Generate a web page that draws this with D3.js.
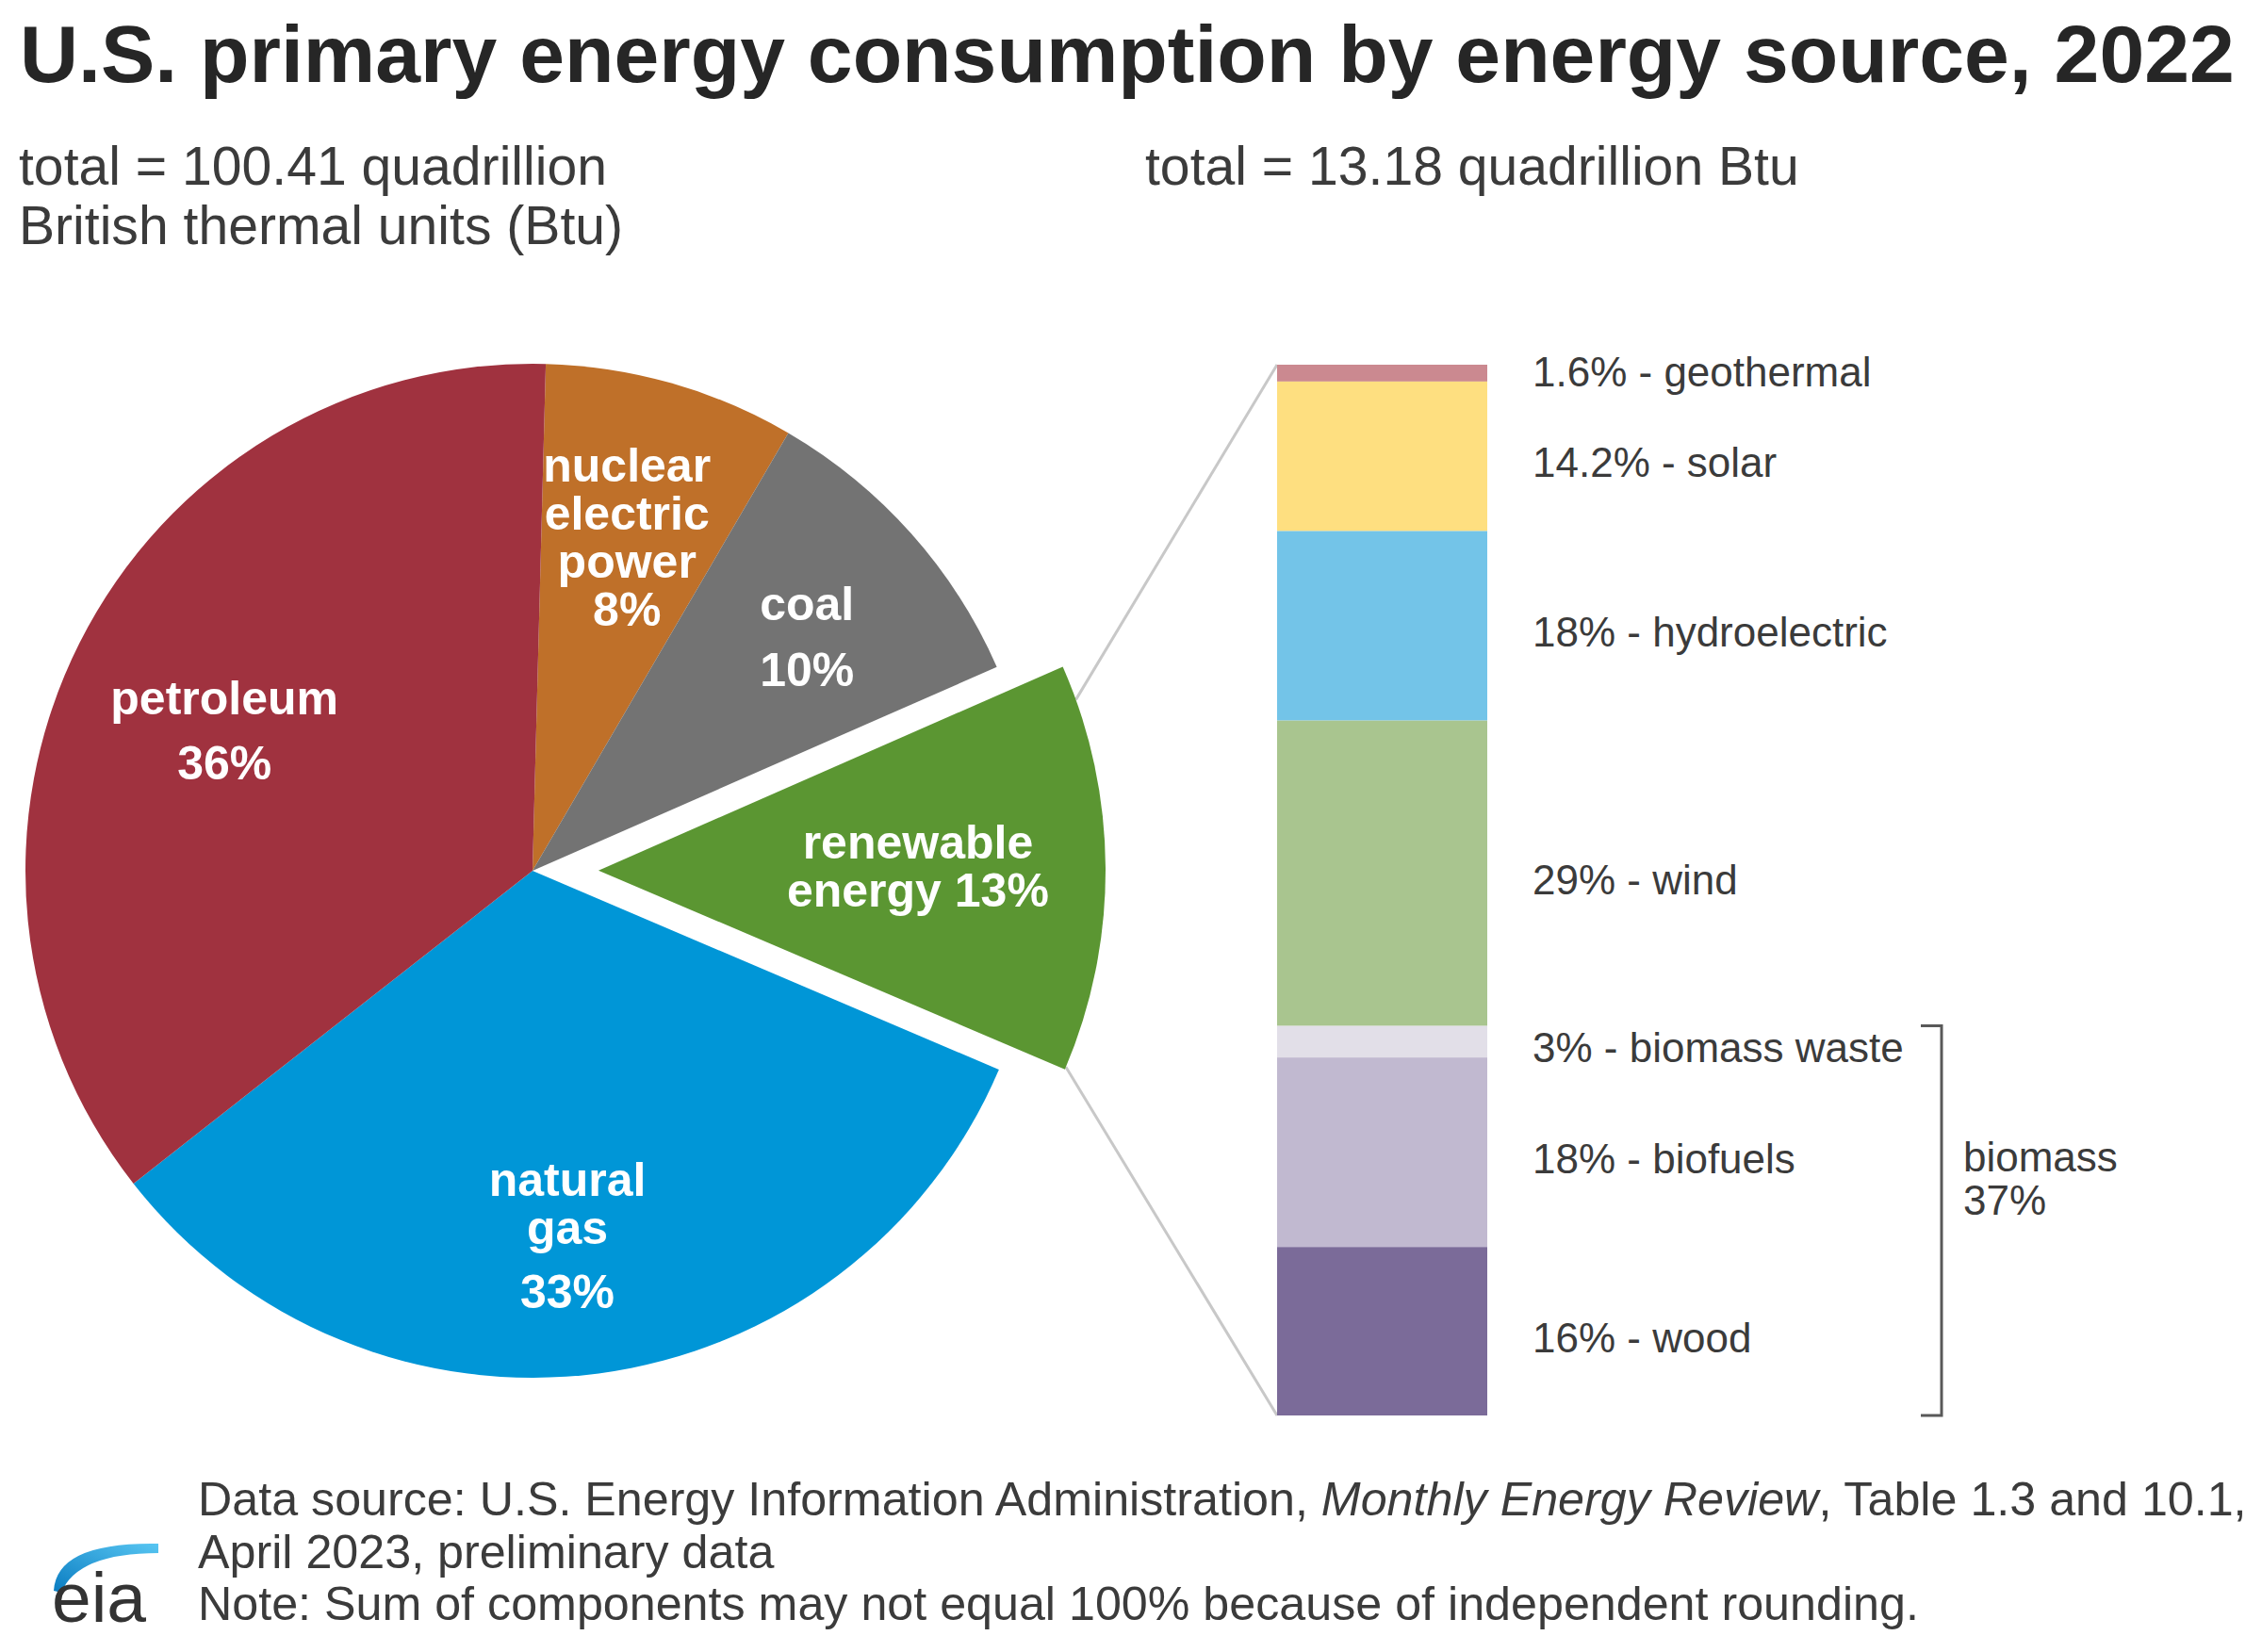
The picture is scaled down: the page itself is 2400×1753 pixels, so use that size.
<!DOCTYPE html>
<html><head><meta charset="utf-8">
<script src="https://cdn.jsdelivr.net/npm/d3@7"></script>
<style>
html,body{margin:0;padding:0;background:#fff;}
svg{display:block;font-family:"Liberation Sans",Arial,sans-serif;}
</style>
</head><body>
<svg id="chart" width="2400" height="1753"></svg>
<script>
// ---------- data ----------
const titleText = "U.S. primary energy consumption by energy source, 2022";
const leftTotalLines = ["total = 100.41 quadrillion", "British thermal units (Btu)"];
const rightTotalText = "total = 13.18 quadrillion Btu";

const pieCategories = ["nuclear electric power", "coal", "renewable energy", "natural gas", "petroleum"];
const pieValues = [8, 10, 13, 33, 36];
const pieLabelLines = [
  ["nuclear", "electric", "power", "8%"],
  ["coal", "10%"],
  ["renewable", "energy 13%"],
  ["natural", "gas", "33%"],
  ["petroleum", "36%"]
];

const renewCategories = ["geothermal", "solar", "hydroelectric", "wind", "biomass waste", "biofuels", "wood"];
const renewValues = [1.6, 14.2, 18, 29, 3, 18, 16];
const renewLabels = ["1.6% - geothermal", "14.2% - solar", "18% - hydroelectric", "29% - wind",
                     "3% - biomass waste", "18% - biofuels", "16% - wood"];
const biomassMembers = ["biomass waste", "biofuels", "wood"];
const biomassLabelLines = ["biomass", "37%"];

const sourcePre = "Data source: U.S. Energy Information Administration, ";
const sourceItalic = "Monthly Energy Review";
const sourcePost = ", Table 1.3 and 10.1,";
const sourceLine2 = "April 2023, preliminary data";
const noteLine = "Note: Sum of components may not equal 100% because of independent rounding.";

// ---------- styles / layout ----------
const pieColors = {
  "nuclear electric power": "#bf7029",
  "coal": "#737373",
  "renewable energy": "#5b9632",
  "natural gas": "#0096d7",
  "petroleum": "#a0323f"
};
const renewColors = {
  "geothermal": "#cb8990",
  "solar": "#fedf80",
  "hydroelectric": "#73c4e8",
  "wind": "#a9c58f",
  "biomass waste": "#e2dfe8",
  "biofuels": "#c1b9d0",
  "wood": "#7b6b99"
};
const labelRadiusFactor = {
  "nuclear electric power": 0.68, "coal": 0.71, "renewable energy": 0.63,
  "natural gas": 0.74, "petroleum": 0.68
};
const labelNudge = {
  "nuclear electric power": [0, -3], "coal": [6, 5], "renewable energy": [0, -3],
  "natural gas": [-15, -8], "petroleum": [0, 15]
};
const pctGap = {
  "nuclear electric power": 0, "coal": 19, "renewable energy": 0,
  "natural gas": 17, "petroleum": 18
};
const textColor = "#3b3b3b";

const svg = d3.select("#chart");

function fitWidth(sel, target) {
  const w = sel.node().getBBox().width;
  const fs = parseFloat(sel.attr("font-size"));
  sel.attr("font-size", fs * target / w);
  return fs * target / w;
}

// ---------- title & totals ----------
const t = svg.append("text").attr("x", 21).attr("y", 87)
  .attr("font-size", 86).attr("font-weight", "bold").attr("fill", "#262626")
  .text(titleText);
fitWidth(t, 2350);

const lt = svg.append("text").attr("x", 20).attr("y", 196)
  .attr("font-size", 57).attr("fill", textColor).text(leftTotalLines[0]);
const subFs = fitWidth(lt, 624);
svg.append("text").attr("x", 20).attr("y", 259)
  .attr("font-size", subFs).attr("fill", textColor).text(leftTotalLines[1]);
svg.append("text").attr("x", 1215).attr("y", 196)
  .attr("font-size", subFs).attr("fill", textColor).text(rightTotalText);

// ---------- pie ----------
const cx = 565, cy = 924, R = 538, explode = 70;
const startOff = 1.5 * Math.PI / 180;
const pie = d3.pie().sort(null).value(d => d.v)
  .startAngle(startOff).endAngle(startOff + 2 * Math.PI);
const pieData = pie(pieCategories.map((c, i) => ({ c, v: pieValues[i], lines: pieLabelLines[i] })));
const arc = d3.arc().innerRadius(0).outerRadius(R);

const gPie = svg.append("g").attr("transform", `translate(${cx},${cy})`);

function offsetOf(d) {
  if (d.data.c !== "renewable energy") return [0, 0];
  const m = (d.startAngle + d.endAngle) / 2;
  return [explode * Math.sin(m), -explode * Math.cos(m)];
}

// ---------- stacked bar scales ----------
const barTop = 387, barBottom = 1502;
const total = d3.sum(renewValues);
const yScale = d3.scaleLinear().domain([0, total]).range([barTop, barBottom]);
const xBand = d3.scaleBand().domain(["renewable energy"]).range([1355, 1578]).padding(0);
const barX = xBand("renewable energy"), barW = xBand.bandwidth();

// connector lines (beneath the slice)
const ren = pieData.find(d => d.data.c === "renewable energy");
const [ox, oy] = offsetOf(ren);
function arcPoint(a) { return [cx + ox + R * Math.sin(a), cy + oy - R * Math.cos(a)]; }
const pTop = arcPoint(ren.startAngle + 0.07);
const pBot = arcPoint(ren.endAngle - 0.005);
svg.append("line").attr("x1", pTop[0]).attr("y1", pTop[1]).attr("x2", barX).attr("y2", yScale(0))
  .attr("stroke", "#c8c8c8").attr("stroke-width", 3);
svg.append("line").attr("x1", pBot[0]).attr("y1", pBot[1]).attr("x2", barX).attr("y2", yScale(total))
  .attr("stroke", "#c8c8c8").attr("stroke-width", 3);

gPie.raise();
gPie.selectAll("path.slice").data(pieData).enter().append("path")
  .attr("class", "slice")
  .attr("d", arc)
  .attr("fill", d => pieColors[d.data.c])
  .attr("transform", d => { const o = offsetOf(d); return `translate(${o[0]},${o[1]})`; });

// pie labels
const lineH = 51, capH = 36, pieFs = 50;
pieData.forEach(d => {
  const o = offsetOf(d);
  const m = (d.startAngle + d.endAngle) / 2;
  const r = R * labelRadiusFactor[d.data.c];
  const nudge = labelNudge[d.data.c];
  const ax = o[0] + r * Math.sin(m) + nudge[0], ay = o[1] - r * Math.cos(m) + nudge[1];
  const lines = d.data.lines;
  const base = [];
  let b = 0;
  lines.forEach((l, i) => {
    if (i > 0) b += lineH + (i === lines.length - 1 ? pctGap[d.data.c] : 0);
    base.push(b);
  });
  const y0 = ay - (b - capH) / 2;
  const txt = gPie.append("text").attr("text-anchor", "middle")
    .attr("font-size", pieFs).attr("font-weight", "bold").attr("fill", "#ffffff");
  lines.forEach((l, i) => {
    txt.append("tspan").attr("x", ax).attr("y", y0 + base[i]).text(l);
  });
});

// ---------- stacked bar ----------
let cum = 0;
const segs = renewCategories.map((c, i) => {
  const s = { c, v: renewValues[i], label: renewLabels[i], y0: cum, y1: cum + renewValues[i] };
  cum += renewValues[i];
  return s;
});
const gBar = svg.append("g");
gBar.selectAll("rect").data(segs).enter().append("rect")
  .attr("x", barX).attr("width", barW)
  .attr("y", d => yScale(d.y0))
  .attr("height", d => yScale(d.y1) - yScale(d.y0))
  .attr("fill", d => renewColors[d.c]);

const labelFs = 44;
gBar.selectAll("text.seg").data(segs).enter().append("text")
  .attr("class", "seg")
  .attr("x", 1626)
  .attr("y", (d, i) => (yScale(d.y0) + yScale(d.y1)) / 2 + (i === 0 ? 14 : 22))
  .attr("font-size", labelFs).attr("fill", textColor)
  .text(d => d.label);

// biomass bracket
const bioSegs = segs.filter(s => biomassMembers.includes(s.c));
const bTop = yScale(d3.min(bioSegs, s => s.y0));
const bBot = yScale(d3.max(bioSegs, s => s.y1));
svg.append("path")
  .attr("d", `M2038,${bTop} H2060 V${bBot} H2038`)
  .attr("fill", "none").attr("stroke", "#595959").attr("stroke-width", 3);
const bioRef = segs.find(s => s.c === "biofuels");
const bioY = (yScale(bioRef.y0) + yScale(bioRef.y1)) / 2 + 20;
const bt = svg.append("text").attr("font-size", labelFs).attr("fill", textColor);
biomassLabelLines.forEach((l, i) => {
  bt.append("tspan").attr("x", 2083).attr("y", bioY + i * 46).text(l);
});

// ---------- footer ----------
const f1 = svg.append("text").attr("x", 210).attr("y", 1608)
  .attr("font-size", 46).attr("fill", textColor);
f1.append("tspan").text(sourcePre);
f1.append("tspan").attr("font-style", "italic").text(sourceItalic);
f1.append("tspan").text(sourcePost);
const footFs = fitWidth(f1, 2174);
svg.append("text").attr("x", 210).attr("y", 1664)
  .attr("font-size", footFs).attr("fill", textColor).text(sourceLine2);
svg.append("text").attr("x", 210).attr("y", 1719)
  .attr("font-size", footFs).attr("fill", textColor).text(noteLine);

// eia logo
const defs = svg.append("defs");
const grad = defs.append("linearGradient").attr("id", "eiaGrad")
  .attr("x1", "0").attr("y1", "1").attr("x2", "1").attr("y2", "0");
grad.append("stop").attr("offset", "0").attr("stop-color", "#0a7cc1");
grad.append("stop").attr("offset", "1").attr("stop-color", "#58c6f2");
svg.append("path")
  .attr("d", "M57,1688 Q60,1636 168,1638 L168,1648 Q82,1648 65,1690 Z")
  .attr("fill", "url(#eiaGrad)");
svg.append("text").attr("x", 55).attr("y", 1721)
  .attr("font-size", 75).attr("fill", "#333333").text("eia");
</script>
</body></html>
